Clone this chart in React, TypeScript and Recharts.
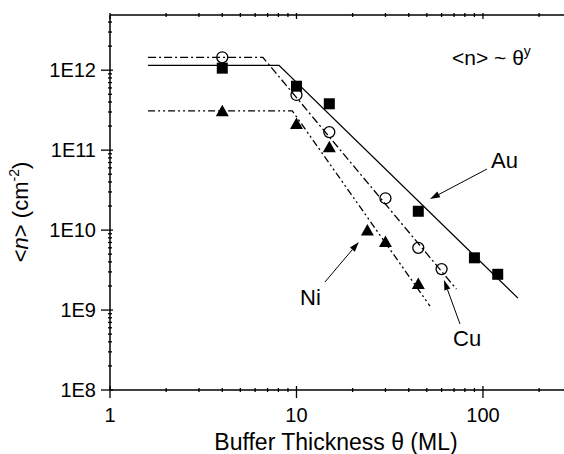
import React from 'react';
import { ComposedChart, Line, Scatter, XAxis, YAxis, ReferenceLine } from 'recharts';

// measured points (buffer thickness in ML, island density in cm^-2)
const auTheta = [4, 10, 15, 45, 90, 120];
const auDensity = [1.06e12, 6.3e11, 3.8e11, 1.72e10, 4.5e9, 2.8e9];
const cuTheta = [4, 10, 15, 30, 45, 60];
const cuDensity = [1.45e12, 4.9e11, 1.68e11, 2.5e10, 6e9, 3.25e9];
const niTheta = [4, 10, 15, 24, 30, 45];
const niDensity = [3.1e11, 2.15e11, 1.1e11, 1e10, 7.2e9, 2.15e9];

// fitted curves: plateau then power law
const auFitTheta = [1.6, 8.06, 154];
const auFitDensity = [1.15e12, 1.15e12, 1.41e9];
const cuFitTheta = [1.6, 6.6, 72];
const cuFitDensity = [1.45e12, 1.45e12, 1.83e9];
const niFitTheta = [1.6, 9.5, 52];
const niFitDensity = [3.1e11, 3.1e11, 1.12e9];

const xTicks = [1, 2, 3, 4, 5, 6, 7, 8, 9, 10, 20, 30, 40, 50, 60, 70, 80, 90, 100, 200];
const yTicks = [8, 9, 10, 11, 12].flatMap((e) =>
  [1, 2, 3, 4, 5, 6, 7, 8, 9].map((m) => m * Math.pow(10, e)).filter((v) => v <= 4.9e12)
);

const FONT = '"Liberation Sans", Arial, sans-serif';

const zip = (xs: number[], ys: number[]) => xs.map((x, i) => ({ x, y: ys[i] }));

const isMajor = (v: number) => {
  const l = Math.log10(v);
  return Math.abs(l - Math.round(l)) < 1e-6;
};

const BottomTick = ({ x, y, payload }: any) => {
  const major = isMajor(payload.value);
  return (
    <g>
      <line x1={x} x2={x} y1={y - (major ? 6 : 4)} y2={major ? y + 6 : y} stroke="#000" strokeWidth={1.3} />
      {major && (
        <text x={x} y={y + 30} textAnchor="middle" fontSize={20} fontFamily={FONT} fill="#000">
          {payload.value}
        </text>
      )}
    </g>
  );
};

const TopTick = ({ x, y, payload }: any) => {
  const major = isMajor(payload.value);
  return <line x1={x} x2={x} y1={y} y2={y + (major ? 6 : 4)} stroke="#000" strokeWidth={1.3} />;
};

const LeftTick = ({ x, y, payload }: any) => {
  const major = isMajor(payload.value);
  return (
    <g>
      <line x1={major ? x - 7 : x} x2={x + (major ? 5 : 4)} y1={y} y2={y} stroke="#000" strokeWidth={1.3} />
      {major && (
        <text x={x - 12} y={y + 7} textAnchor="end" fontSize={20} fontFamily={FONT} fill="#000">
          {'1E' + Math.round(Math.log10(payload.value))}
        </text>
      )}
    </g>
  );
};

const Square = ({ cx, cy }: any) => <rect x={cx - 5.5} y={cy - 5.5} width={11} height={11} fill="#000" />;
const Ring = ({ cx, cy }: any) => <circle cx={cx} cy={cy} r={5.5} fill="none" stroke="#000" strokeWidth={1.3} />;
const Tri = ({ cx, cy }: any) => (
  <polygon points={`${cx - 6.5},${cy + 5.5} ${cx + 6.5},${cy + 5.5} ${cx},${cy - 6}`} fill="#000" />
);

const Arrow = (p: any) => {
  const { x1, y1, x2, y2 } = p;
  const a = Math.atan2(y2 - y1, x2 - x1);
  const len = 10;
  const w = 3.2;
  const bx = x2 - len * Math.cos(a);
  const by = y2 - len * Math.sin(a);
  const nx = -Math.sin(a) * w;
  const ny = Math.cos(a) * w;
  return (
    <g>
      <line x1={x1} y1={y1} x2={bx} y2={by} stroke="#000" strokeWidth={1} />
      <polygon points={`${x2},${y2} ${bx + nx},${by + ny} ${bx - nx},${by - ny}`} fill="#000" />
    </g>
  );
};

const lineProps = {
  type: 'linear' as const,
  dataKey: 'y',
  stroke: '#000',
  strokeWidth: 1.3,
  dot: false,
  activeDot: false,
  isAnimationActive: false,
};

export default function App() {
  return (
    <div style={{ position: 'absolute', left: 0, top: 0, width: 564, height: 454, background: '#fff' }}>
      <ComposedChart width={564} height={454} margin={{ top: 0, right: 0, bottom: 0, left: 0 }}>
        <XAxis
          xAxisId="bottom"
          dataKey="x"
          type="number"
          scale="log"
          domain={[1, 272]}
          allowDataOverflow
          ticks={xTicks}
          interval={0}
          height={64}
          tickSize={0}
          tickLine={false}
          tick={<BottomTick />}
          axisLine={{ stroke: '#000', strokeWidth: 1.5 }}
        />
        <XAxis
          xAxisId="top"
          orientation="top"
          dataKey="x"
          type="number"
          scale="log"
          domain={[1, 272]}
          allowDataOverflow
          ticks={xTicks}
          interval={0}
          height={15}
          tickSize={0}
          tickLine={false}
          tick={<TopTick />}
          axisLine={{ stroke: '#000', strokeWidth: 1.5 }}
        />
        <YAxis
          dataKey="y"
          type="number"
          scale="log"
          domain={[1e8, 4.9e12]}
          allowDataOverflow
          ticks={yTicks}
          interval={0}
          width={110}
          tickSize={0}
          tickLine={false}
          tick={<LeftTick />}
          axisLine={{ stroke: '#000', strokeWidth: 1.5 }}
        />
        <Line {...lineProps} xAxisId="bottom" data={zip(auFitTheta, auFitDensity)} />
        <Line {...lineProps} xAxisId="bottom" data={zip(cuFitTheta, cuFitDensity)} strokeDasharray="8 3 2 3" />
        <Line {...lineProps} xAxisId="bottom" data={zip(niFitTheta, niFitDensity)} strokeDasharray="7 3 2 3 2 3" />
        <Scatter xAxisId="bottom" data={zip(auTheta, auDensity)} shape={<Square />} isAnimationActive={false} />
        <Scatter xAxisId="bottom" data={zip(cuTheta, cuDensity)} shape={<Ring />} isAnimationActive={false} />
        <Scatter xAxisId="bottom" data={zip(niTheta, niDensity)} shape={<Tri />} isAnimationActive={false} />
        <ReferenceLine xAxisId="bottom" segment={[{ x: 105, y: 5.8e10 }, { x: 52, y: 2.44e10 }]} shape={Arrow} ifOverflow="visible" />
        <ReferenceLine xAxisId="bottom" segment={[{ x: 14.2, y: 2.24e9 }, { x: 21.6, y: 7.1e9 }]} shape={Arrow} ifOverflow="visible" />
        <ReferenceLine xAxisId="bottom" segment={[{ x: 75.3, y: 6.7e8 }, { x: 61.8, y: 2.37e9 }]} shape={Arrow} ifOverflow="visible" />
      </ComposedChart>
      <svg
        width={564}
        height={454}
        style={{ position: 'absolute', left: 0, top: 0, pointerEvents: 'none' }}
        fontFamily={FONT}
        fill="#000"
      >
        <text x={452} y={65} fontSize={21}>
          {'<n> ~ θ'}
          <tspan dy={-9} fontSize={14}>y</tspan>
        </text>
        <text x={491} y={168} fontSize={22}>Au</text>
        <text x={300} y={305} fontSize={22}>Ni</text>
        <text x={453} y={346} fontSize={22}>Cu</text>
        <text x={336} y={450} fontSize={23} textAnchor="middle">Buffer Thickness θ (ML)</text>
        <text transform="translate(28,212) rotate(-90)" fontSize={22} textAnchor="middle">
          {'<'}
          <tspan fontStyle="italic">n</tspan>
          {'> (cm'}
          <tspan dy={-9} fontSize={14}>-2</tspan>
          <tspan dy={9}>)</tspan>
        </text>
      </svg>
    </div>
  );
}
